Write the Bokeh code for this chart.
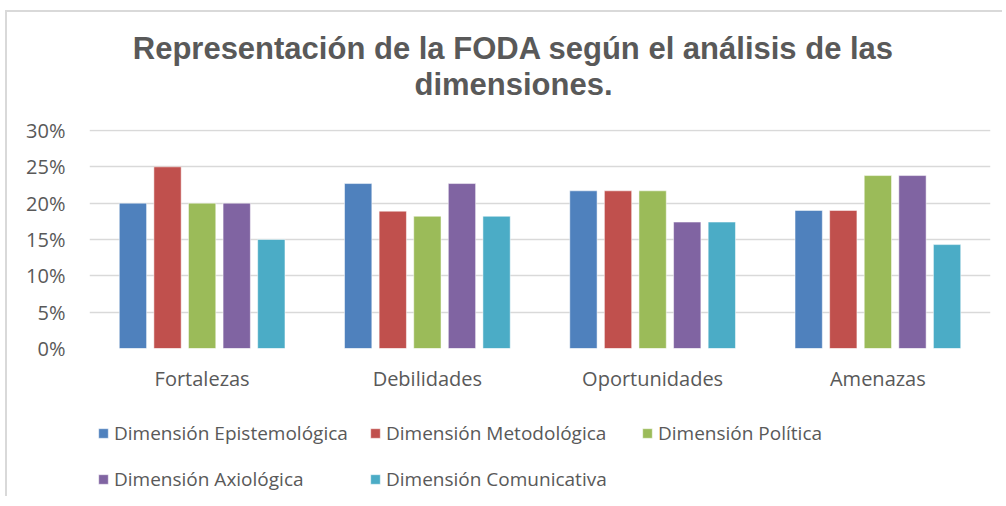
from bokeh.plotting import figure
from bokeh.layouts import column
from bokeh.models import (FactorRange, Range1d, ColumnDataSource, FixedTicker,
                          NumeralTickFormatter, Label, Legend, LegendItem)
from bokeh.transform import dodge
from bokeh.embed import file_html
from bokeh.resources import INLINE

# ---------------- data ----------------
categories = ["Fortalezas", "Debilidades", "Oportunidades", "Amenazas"]
series_names = ["Dimensión Epistemológica", "Dimensión Metodológica",
                "Dimensión Política", "Dimensión Axiológica",
                "Dimensión Comunicativa"]
epistemologica = [0.200, 0.227, 0.217, 0.190]
metodologica = [0.250, 0.189, 0.217, 0.190]
politica = [0.200, 0.182, 0.217, 0.238]
axiologica = [0.200, 0.227, 0.174, 0.238]
comunicativa = [0.150, 0.182, 0.174, 0.143]
y_ticks = [0.0, 0.05, 0.10, 0.15, 0.20, 0.25, 0.30]
title_line1 = "Representación de la FODA según el análisis de las"
title_line2 = "dimensiones."

# ---------------- styles ----------------
colors = ["#4F81BD", "#C0504D", "#9BBB59", "#8064A2", "#4BACC6"]
keys = ["epi", "met", "pol", "axi", "com"]
offsets = [-0.3072, -0.1536, 0.0, 0.1536, 0.3072]
bar_width = 0.1212
FONT = "Open Sans"
TXT = "#595959"

source = ColumnDataSource(data=dict(
    cat=categories, epi=epistemologica, met=metodologica,
    pol=politica, axi=axiologica, com=comunicativa))

x_range = FactorRange(factors=categories, range_padding=0)

# ---------------- title strip ----------------
t = figure(x_range=x_range, y_range=Range1d(0, 1),
           width=995, height=100, min_border=0,
           x_axis_type=None, y_axis_type=None,
           output_backend="svg", toolbar_location=None)
t.outline_line_color = None
t.grid.visible = False
for txt, yy in ((title_line1, 64), (title_line2, 28)):
    t.add_layout(Label(x=424, y=yy, x_units="screen", y_units="screen",
                       text=txt, text_align="center", text_baseline="alphabetic",
                       text_font="Liberation Sans", text_font_style="bold",
                       text_font_size="31px", text_color=TXT))

# ---------------- main chart ----------------
p = figure(x_range=x_range, y_range=Range1d(0, 0.3014),
           width=995, height=300,
           min_border_left=82, min_border_right=12,
           min_border_top=17, min_border_bottom=64,
           output_backend="svg", toolbar_location=None)
p.outline_line_color = None
p.border_fill_color = "white"

for k, c, off in zip(keys, colors, offsets):
    p.vbar(x=dodge("cat", off, range=x_range), top=k, width=bar_width,
           source=source, fill_color=c, line_color="white",
           line_alpha=0.5, line_width=1)

p.xgrid.grid_line_color = None
p.ygrid.grid_line_color = "#D9D9D9"
p.ygrid.grid_line_width = 1.5

p.yaxis.ticker = FixedTicker(ticks=y_ticks)
p.yaxis.formatter = NumeralTickFormatter(format="0%")
for ax in (p.xaxis[0], p.yaxis[0]):
    ax.axis_line_color = None
    ax.major_tick_line_color = None
    ax.minor_tick_line_color = None
    ax.major_tick_in = 0
    ax.major_tick_out = 0
    ax.major_label_text_font = FONT
    ax.major_label_text_font_size = "20px"
    ax.major_label_text_color = TXT
p.yaxis.major_label_standoff = 24
p.xaxis.major_label_standoff = 16

# ---------------- legend strip ----------------
q = figure(x_range=x_range, y_range=Range1d(2, 3),
           width=995, height=84, min_border=0,
           x_axis_type=None, y_axis_type=None,
           output_backend="svg", toolbar_location=None)
q.outline_line_color = None
q.grid.visible = False
renderers = []
for k, c, off in zip(keys, colors, offsets):
    r = q.vbar(x=dodge("cat", off, range=x_range), top=k, width=bar_width,
               source=source, fill_color=c, line_color="white",
               line_alpha=0.5, line_width=1)
    renderers.append(r)

items = [LegendItem(label=n, renderers=[r]) for n, r in zip(series_names, renderers)]
legend = Legend(items=items, location=(8, 4), orientation="horizontal", ncols=3,
                glyph_width=12, glyph_height=12, label_standoff=5, spacing=20,
                label_width=235,
                padding=0, margin=0, border_line_color=None,
                background_fill_alpha=0,
                label_text_font=FONT, label_text_font_size="19px",
                label_text_color=TXT)
q.add_layout(legend)

layout = column(t, p, q, spacing=0,
                styles={"border-top": "2px solid #D9D9D9",
                        "border-left": "2px solid #D9D9D9",
                        "margin-left": "5px", "margin-top": "10px"})

open("out.html", "w").write(file_html(layout, INLINE))
